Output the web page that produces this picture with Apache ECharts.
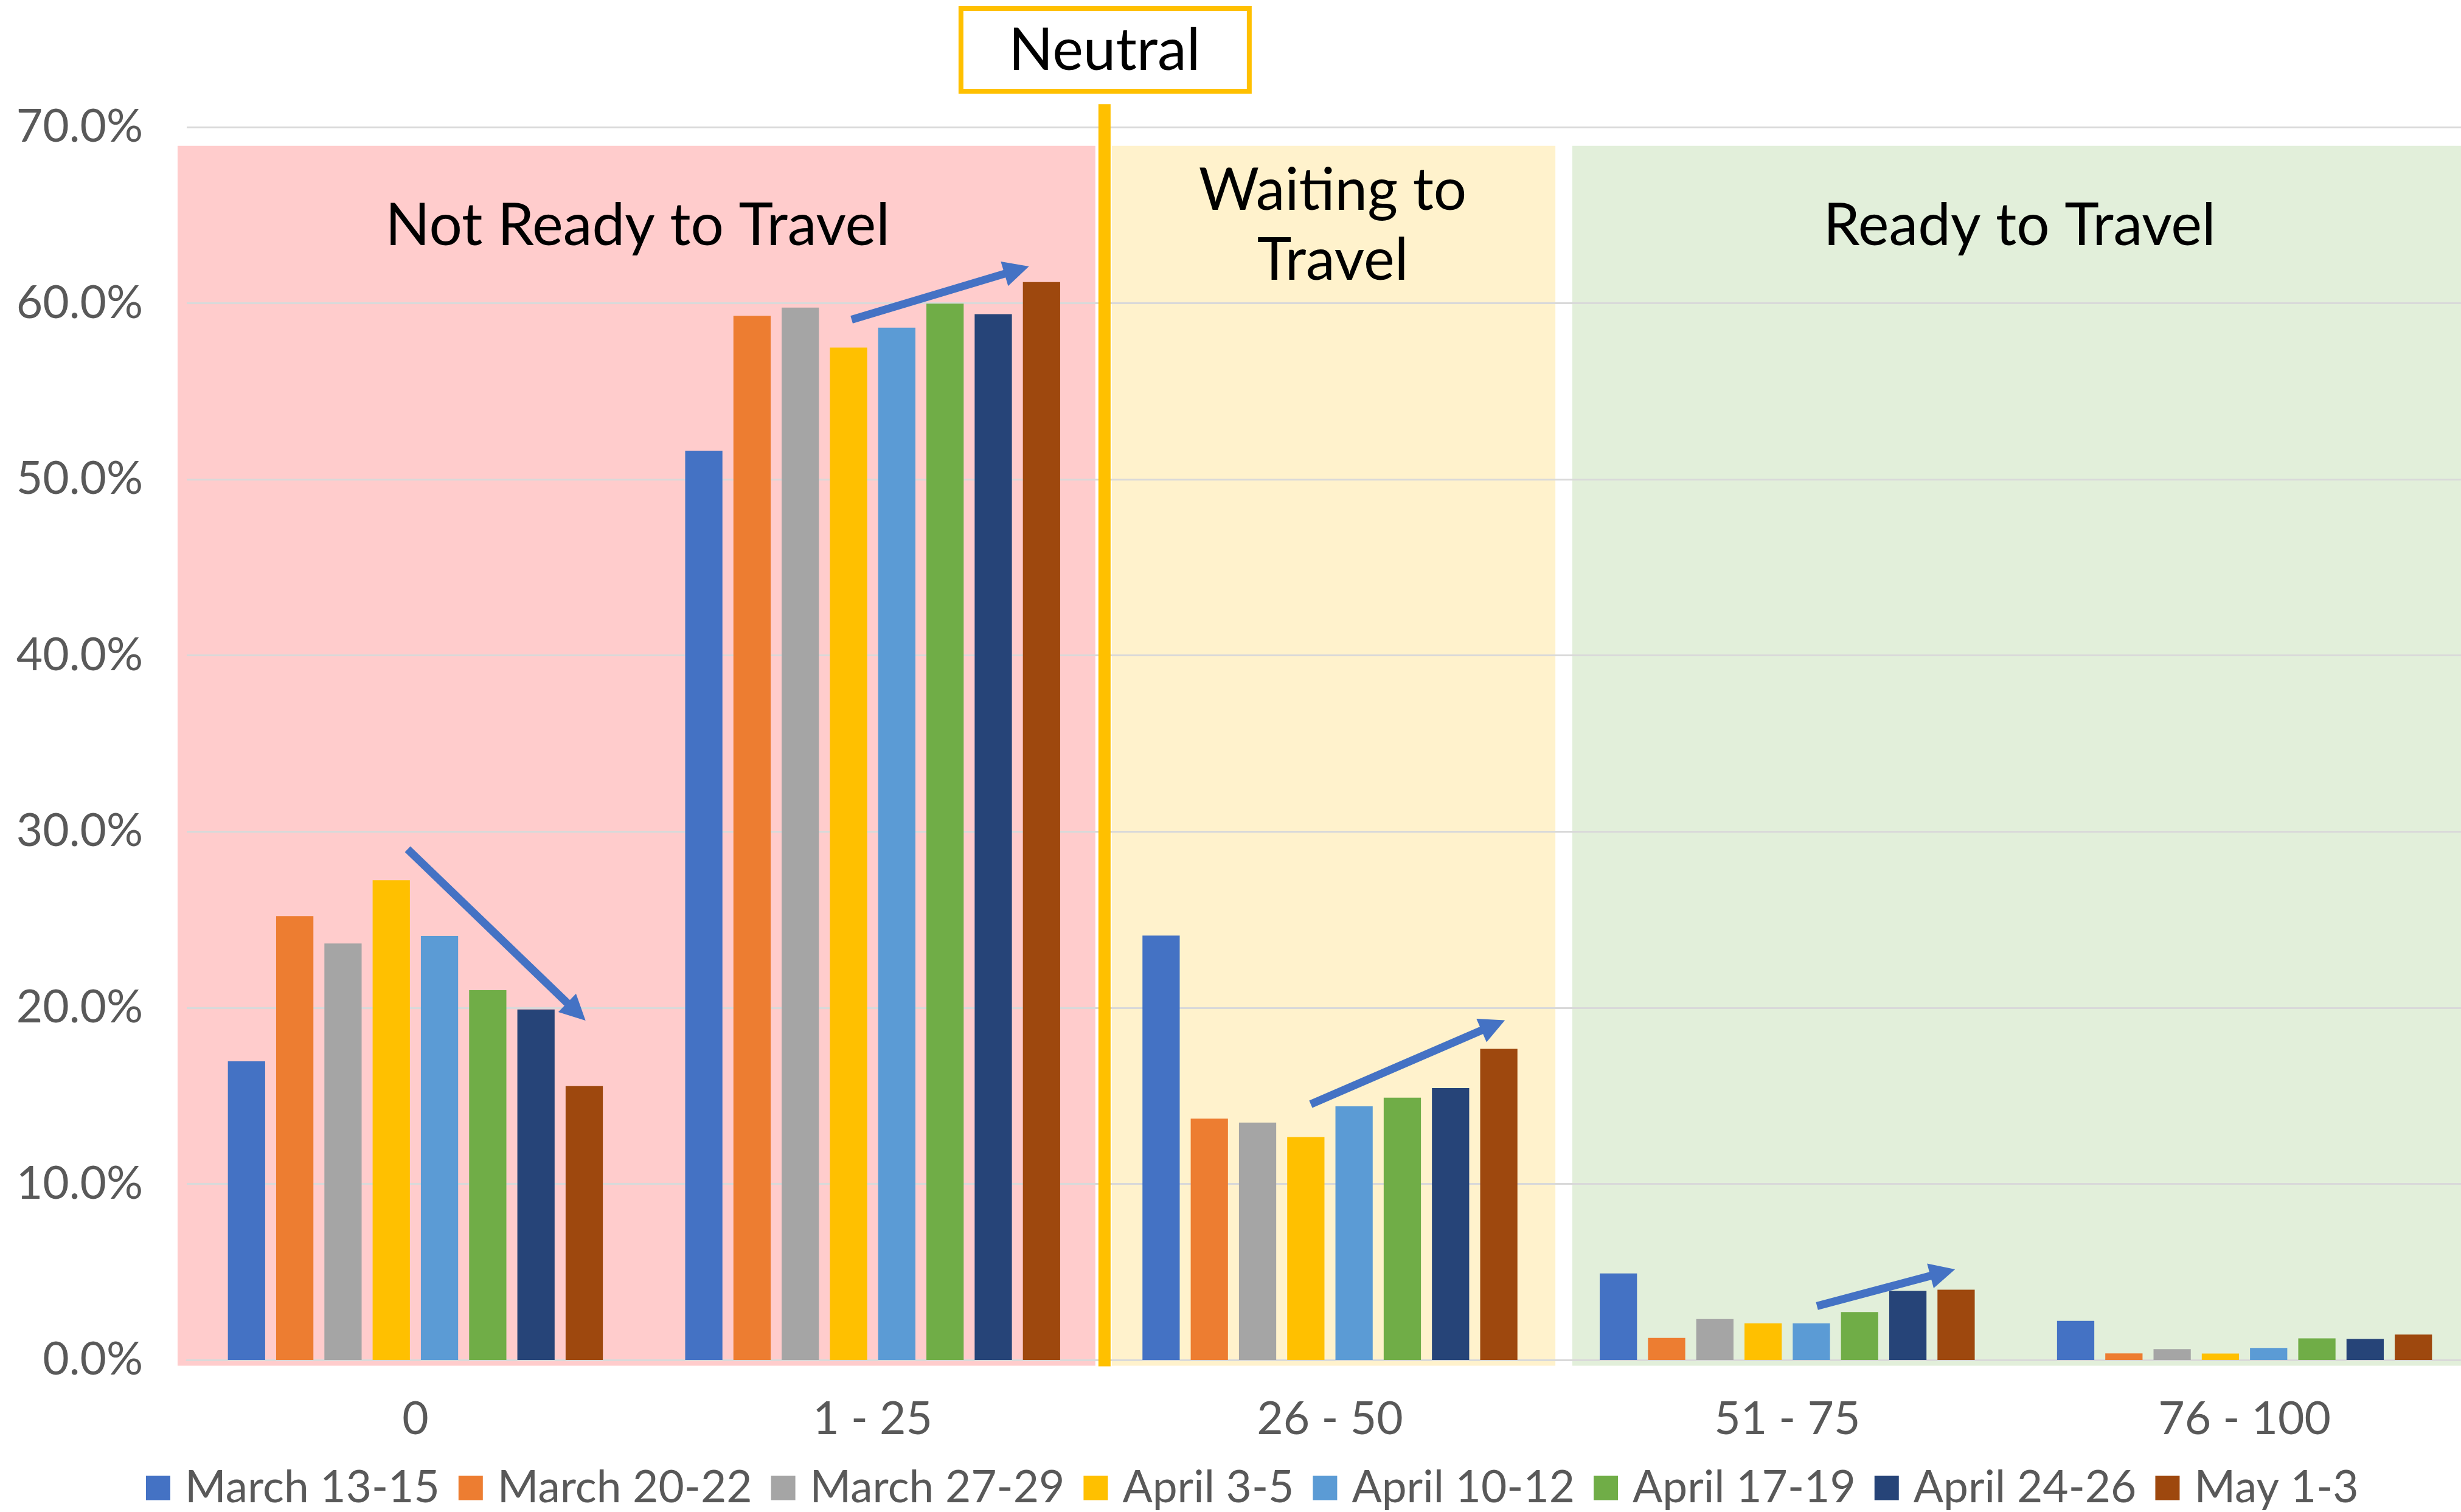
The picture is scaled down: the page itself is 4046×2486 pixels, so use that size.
<!DOCTYPE html>
<html>
<head>
<meta charset="utf-8">
<script src="https://cdn.jsdelivr.net/npm/echarts@6/dist/echarts.min.js"></script>
<style>
html,body{margin:0;padding:0;background:#fff;}
#chart{width:4046px;height:2486px;}
</style>
</head>
<body>
<div id="chart"></div>
<script>
// ---- data ----
const categories = ['0', '1 - 25', '26 - 50', '51 - 75', '76 - 100'];
const seriesNames = ['March 13-15', 'March 20-22', 'March 27-29', 'April 3-5', 'April 10-12', 'April 17-19', 'April 24-26', 'May 1-3'];
const march13_15 = [16.96, 51.63, 24.10, 4.91, 2.22];
const march20_22 = [25.20, 59.29, 13.70, 1.25, 0.37];
const march27_29 = [23.65, 59.75, 13.48, 2.32, 0.61];
const april3_5   = [27.24, 57.48, 12.66, 2.08, 0.36];
const april10_12 = [24.07, 58.61, 14.40, 2.08, 0.68];
const april17_19 = [21.00, 59.98, 14.89, 2.72, 1.23];
const april24_26 = [19.90, 59.38, 15.44, 3.92, 1.19];
const may1_3     = [15.55, 61.20, 17.66, 3.99, 1.44];
const yTickLabels = ['0.0%', '10.0%', '20.0%', '30.0%', '40.0%', '50.0%', '60.0%', '70.0%'];
const zoneLabels = ['Not Ready to Travel', 'Waiting to\nTravel', 'Ready to Travel'];
const neutralLabel = 'Neutral';

// ---- styles / annotation placement (data units on helper axis) ----
const colors = ['#4472C4', '#ED7D31', '#A5A5A5', '#FFC000', '#5B9BD5', '#70AD47', '#264478', '#9E480E'];
const seriesValues = [march13_15, march20_22, march27_29, april3_5, april10_12, april17_19, april24_26, may1_3];
const bands = [
  {x0: -0.52, x1: 1.487, color: '#FFCCCC'},
  {x0: 1.523, x1: 2.493, color: '#FFF2CC'},
  {x0: 2.530, x1: 4.70, color: '#E2EFDA'}
];
const bandY = [-0.33, 68.94];
const zoneLabelX = [0.486, 2.006, 3.508];
const zoneLabelY = 59.0;
const neutralX = 1.507;
const neutralLineY = [-0.36, 71.3];
const arrows = [
  [[-0.017, 29.0], [0.352, 19.77]],
  [[0.954, 59.07], [1.315, 61.88]],
  [[1.958, 14.52], [2.357, 19.0]],
  [[3.065, 3.06], [3.340, 4.96]]
];

const FONT = 'Lato';
const chart = echarts.init(document.getElementById('chart'), null, {renderer: 'canvas'});

const barSeries = seriesNames.map((name, i) => ({
  name: name,
  type: 'bar',
  xAxisIndex: 0,
  yAxisIndex: 0,
  data: seriesValues[i],
  itemStyle: {color: colors[i]},
  barGap: '29.5%',
  barCategoryGap: '18%',
  z: 3
}));

const option = {
  animation: false,
  backgroundColor: '#ffffff',
  color: colors,
  textStyle: {fontFamily: FONT},
  grid: {left: 307, width: 3759, top: 209, bottom: 250, containLabel: false, outerBoundsMode: 'none'},
  legend: {
    data: seriesNames,
    left: 240,
    top: 2410,
    padding: 0,
    icon: 'rect',
    itemWidth: 40,
    itemHeight: 40,
    itemGap: 31,
    textStyle: {fontSize: 73, color: '#595959', fontFamily: FONT, padding: [0, 0, 0, 19]}
  },
  xAxis: [{
    type: 'category',
    data: categories,
    axisLine: {show: true, lineStyle: {color: '#D9D9D9', width: 3}},
    axisTick: {show: false},
    axisLabel: {fontSize: 75, color: '#595959', margin: 60, fontFamily: FONT},
    splitLine: {show: false},
    z: 1
  }, {
    type: 'value',
    min: -0.5,
    max: 4.5,
    show: false,
    splitLine: {show: false}
  }],
  yAxis: [{
    type: 'value',
    min: 0,
    max: 70,
    interval: 10,
    axisLine: {show: false},
    axisTick: {show: false},
    axisLabel: {
      fontSize: 75, color: '#595959', margin: 72, fontFamily: FONT,
      formatter: v => yTickLabels[Math.round(v / 10)]
    },
    splitLine: {show: true, lineStyle: {color: '#D9D9D9', width: 3}}
  }],
  series: barSeries.concat([{
    type: 'lines',
    coordinateSystem: 'cartesian2d',
    xAxisIndex: 1,
    yAxisIndex: 0,
    symbol: ['none', 'triangle'],
    symbolSize: 42,
    lineStyle: {color: '#4472C4', width: 13, opacity: 1, curveness: 0},
    data: arrows.map(a => ({coords: a})),
    z: 5,
    silent: true
  }])
};
chart.setOption(option);

function px(x, y) {
  return chart.convertToPixel({xAxisIndex: 1, yAxisIndex: 0}, [x, y]);
}

const graphics = [];
bands.forEach(b => {
  const p0 = px(b.x0, bandY[1]);
  const p1 = px(b.x1, bandY[0]);
  graphics.push({
    type: 'rect', z: -100, silent: true,
    shape: {x: p0[0], y: p0[1], width: p1[0] - p0[0], height: p1[1] - p0[1]},
    style: {fill: b.color}
  });
});
// neutral line
const nTop = px(neutralX, neutralLineY[1]);
const nBot = px(neutralX, neutralLineY[0]);
graphics.push({
  type: 'rect', z: 20, silent: true,
  shape: {x: nTop[0] - 10, y: nTop[1], width: 20, height: nBot[1] - nTop[1]},
  style: {fill: '#FFC000'}
});
// neutral box
graphics.push({
  type: 'rect', z: 20, silent: true,
  shape: {x: nTop[0] - 236, y: 14, width: 474, height: 136},
  style: {fill: '#ffffff', stroke: '#FFC000', lineWidth: 8}
});
graphics.push({
  type: 'text', z: 21, silent: true,
  x: nTop[0], y: 84,
  style: {text: neutralLabel, fontSize: 96, fontFamily: FONT, fill: '#000000', align: 'center', verticalAlign: 'middle'}
});
// zone labels
zoneLabels.forEach((t, i) => {
  const p = px(zoneLabelX[i], zoneLabelY);
  graphics.push({
    type: 'text', z: 21, silent: true,
    x: p[0], y: 372,
    style: {text: t, fontSize: 96, lineHeight: 115, fontFamily: FONT, fill: '#000000', align: 'center', verticalAlign: 'middle'}
  });
});
chart.setOption({graphic: {elements: graphics}});
</script>
</body>
</html>
